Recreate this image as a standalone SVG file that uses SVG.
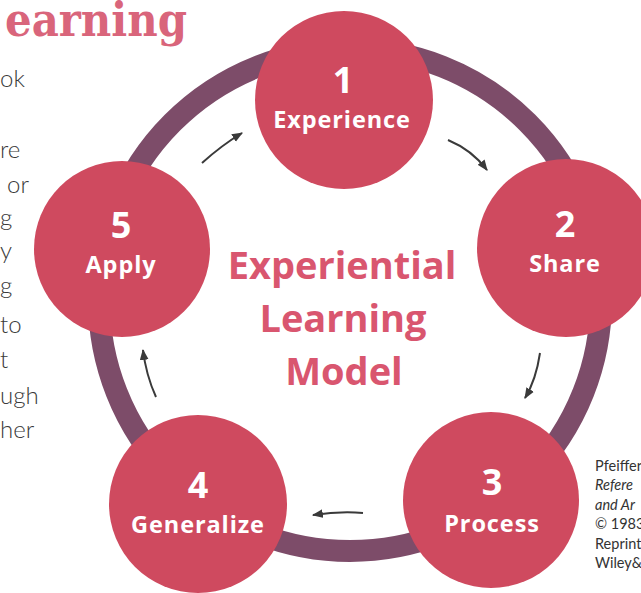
<svg xmlns="http://www.w3.org/2000/svg" width="641" height="593" viewBox="0 0 641 593">
<defs>
<style>
.node{fill:#cf4a5f}
.num{font-family:"Open Sans","Liberation Sans",sans-serif;font-weight:700;font-size:36px;fill:#fff;text-anchor:middle}
.lbl{font-family:"Open Sans","Liberation Sans",sans-serif;font-weight:700;font-size:23.5px;letter-spacing:0.9px;fill:#fff;text-anchor:middle}
.title{font-family:"Open Sans","Liberation Sans",sans-serif;font-weight:700;font-size:38px;fill:#d9566f;text-anchor:middle}
.body{font-family:Lato,"Open Sans",sans-serif;font-weight:300;font-size:24px;fill:#3a3a3a}
.cred{font-family:Lato,"Open Sans",sans-serif;font-size:14.5px;fill:#333}
.conn{fill:none;stroke:#3a3a3a;stroke-width:2}
</style>
<marker id="ah" viewBox="0 0 10 8" refX="9" refY="4" markerWidth="11" markerHeight="9" markerUnits="userSpaceOnUse" orient="auto">
<path d="M0,0 L10,4 L0,8 z" fill="#3a3a3a"/>
</marker>
</defs>
<rect width="641" height="593" fill="#fff"/>
<text x="5" y="36" font-family="DejaVu Serif,serif" font-weight="700" font-size="46" fill="#d9657b" textLength="182" lengthAdjust="spacingAndGlyphs">earning</text>
<g id="left-text">
<text class="body" x="0" y="87">ok</text>
<text class="body" x="0" y="158">re</text>
<text class="body" x="7" y="193">or</text>
<text class="body" x="0" y="226">g</text>
<text class="body" x="0" y="259">y</text>
<text class="body" x="0" y="294">g</text>
<text class="body" x="0" y="333">to</text>
<text class="body" x="0" y="368">t</text>
<text class="body" x="0" y="404">ugh</text>
<text class="body" x="0" y="438">her</text>
</g>
<g id="credit">
<text class="cred" x="595" y="471">Pfeiffer</text>
<text class="cred" x="595" y="490" font-style="italic">Refere</text>
<text class="cred" x="595" y="510" font-style="italic">and Ar</text>
<text class="cred" x="595" y="529">© 1983</text>
<text class="cred" x="595" y="549">Reprint</text>
<text class="cred" x="595" y="568">Wiley&amp;</text>
</g>
<circle id="ring" cx="350" cy="300" r="251" fill="none" stroke="#7d4c69" stroke-width="22"/>
<g id="connectors">
<path class="conn" d="M448,140 Q472,150 487,170" marker-end="url(#ah)"/>
<path class="conn" d="M540,353 Q536,380 525,398" marker-end="url(#ah)"/>
<path class="conn" d="M363,513 Q340,511 313,515" marker-end="url(#ah)"/>
<path class="conn" d="M156,397 Q146,375 143,350" marker-end="url(#ah)"/>
<path class="conn" d="M202,163 Q222,145 242,133" marker-end="url(#ah)"/>
</g>
<g id="n1"><circle class="node" cx="344" cy="100" r="89"/><text class="num" x="343" y="93">1</text><text class="lbl" x="342" y="128">Experience</text></g>
<g id="n2"><circle class="node" cx="566" cy="248" r="89"/><text class="num" x="565" y="237">2</text><text class="lbl" x="565" y="272">Share</text></g>
<g id="n3"><circle class="node" cx="491" cy="500" r="88"/><text class="num" x="492" y="495">3</text><text class="lbl" x="492" y="532">Process</text></g>
<g id="n4"><circle class="node" cx="198" cy="504" r="89"/><text class="num" x="198" y="498">4</text><text class="lbl" x="198" y="533">Generalize</text></g>
<g id="n5"><circle class="node" cx="122" cy="249" r="88"/><text class="num" x="121" y="238">5</text><text class="lbl" x="121" y="273">Apply</text></g>
<g id="center-title">
<text class="title" x="342" y="279">Experiential</text>
<text class="title" x="343" y="332">Learning</text>
<text class="title" x="344" y="385">Model</text>
</g>
</svg>
